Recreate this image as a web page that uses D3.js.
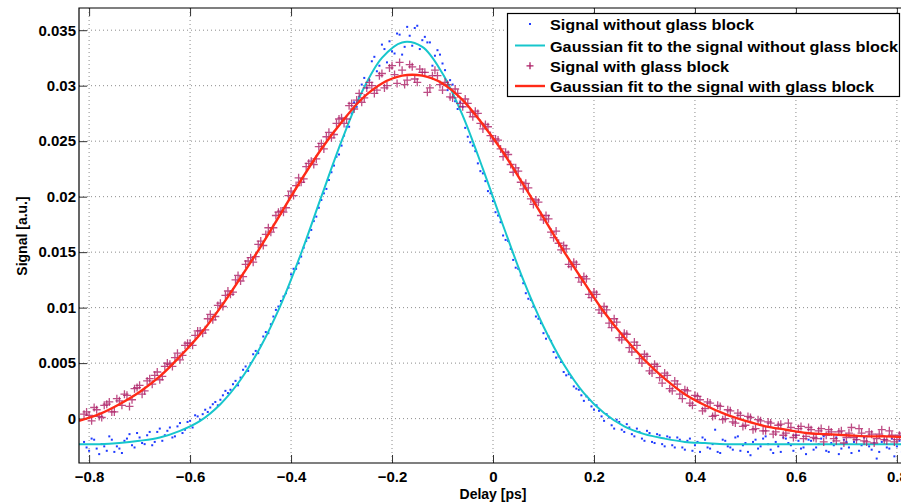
<!DOCTYPE html>
<html>
<head>
<meta charset="utf-8">
<script src="https://cdn.jsdelivr.net/npm/d3@7"></script>
<style>
  body { margin: 0; background: #fff; }
  svg { display: block; font-family: "Liberation Sans", Arial, Helvetica, sans-serif; }
  .tick text { font-size: 15px; font-weight: bold; fill: #000; }
</style>
</head>
<body>
<svg id="chart" width="901" height="504"></svg>
<script>
// measured scan, first pass (delay in ps)
var delay = [
  -0.81,-0.80,-0.79,-0.78,-0.77,-0.76,-0.75,-0.74,-0.73,-0.72,
  -0.71,-0.70,-0.69,-0.68,-0.67,-0.66,-0.65,-0.64,-0.63,-0.62,
  -0.61,-0.60,-0.59,-0.58,-0.57,-0.56,-0.55,-0.54,-0.53,-0.52,
  -0.51,-0.50,-0.49,-0.48,-0.47,-0.46,-0.45,-0.44,-0.43,-0.42,
  -0.41,-0.40,-0.39,-0.38,-0.37,-0.36,-0.35,-0.34,-0.33,-0.32,
  -0.31,-0.30,-0.29,-0.28,-0.27,-0.26,-0.25,-0.24,-0.23,-0.22,
  -0.21,-0.20,-0.19,-0.18,-0.17,-0.16,-0.15,-0.14,-0.13,-0.12,
  -0.11,-0.10,-0.09,-0.08,-0.07,-0.06,-0.05,-0.04,-0.03,-0.02,
  -0.01, 0.00, 0.01, 0.02, 0.03, 0.04, 0.05, 0.06, 0.07, 0.08,
   0.09, 0.10, 0.11, 0.12, 0.13, 0.14, 0.15, 0.16, 0.17, 0.18,
   0.19, 0.20, 0.21, 0.22, 0.23, 0.24, 0.25, 0.26, 0.27, 0.28,
   0.29, 0.30, 0.31, 0.32, 0.33, 0.34, 0.35, 0.36, 0.37, 0.38,
   0.39, 0.40, 0.41, 0.42, 0.43, 0.44, 0.45, 0.46, 0.47, 0.48,
   0.49, 0.50, 0.51, 0.52, 0.53, 0.54, 0.55, 0.56, 0.57, 0.58,
   0.59, 0.60, 0.61, 0.62, 0.63, 0.64, 0.65, 0.66, 0.67, 0.68,
   0.69, 0.70, 0.71, 0.72, 0.73, 0.74, 0.75, 0.76, 0.77, 0.78,
   0.79, 0.80, 0.81
];

var signalNoGlass = [
  -0.0021,-0.0029,-0.0019,-0.0032,-0.0025,-0.0016,-0.0030,-0.0027,-0.0020,-0.0014,
  -0.0026,-0.0017,-0.0023,-0.0012,-0.0021,-0.0009,-0.0015,-0.0008,-0.0016,-0.0004,
  -0.0010,-0.0002, 0.0003,-0.0001, 0.0008, 0.0010, 0.0015, 0.0017, 0.0025, 0.0026,
   0.0034, 0.0037, 0.0047, 0.0050, 0.0061, 0.0066, 0.0078, 0.0085, 0.0098, 0.0106,
   0.0113, 0.0130, 0.0135, 0.0146, 0.0160, 0.0170, 0.0182, 0.0197, 0.0207, 0.0222,
   0.0236, 0.0246, 0.0263, 0.0275, 0.0281, 0.0301, 0.0298, 0.0322, 0.0313, 0.0337,
   0.0321, 0.0331, 0.0347, 0.0328, 0.0353, 0.0336, 0.0354, 0.0341, 0.0339, 0.0318,
   0.0332, 0.0320, 0.0296, 0.0301, 0.0279, 0.0281, 0.0254, 0.0246, 0.0230, 0.0221,
   0.0205, 0.0196, 0.0183, 0.0165, 0.0160, 0.0143, 0.0135, 0.0122, 0.0108, 0.0101,
   0.0090, 0.0077, 0.0074, 0.0060, 0.0056, 0.0042, 0.0040, 0.0029, 0.0026, 0.0016,
   0.0017, 0.0008, 0.0007,-0.0002, 0.0001,-0.0009,-0.0003,-0.0012,-0.0008,-0.0016,
  -0.0012,-0.0020,-0.0013,-0.0022,-0.0015,-0.0025,-0.0017,-0.0026,-0.0019,-0.0028,
  -0.0018,-0.0024,-0.0030,-0.0019,-0.0027,-0.0010,-0.0031,-0.0020,-0.0026,-0.0017,
  -0.0029,-0.0022,-0.0033,-0.0019,-0.0025,-0.0016,-0.0028,-0.0021,-0.0030,-0.0018,
  -0.0024,-0.0015,-0.0027,-0.0032,-0.0020,-0.0026,-0.0018,-0.0029,-0.0022,-0.0017,
  -0.0027,-0.0021,-0.0031,-0.0019,-0.0024,-0.0016,-0.0028,-0.0036,-0.0021,-0.0026,
  -0.0018,-0.0025,-0.0030
];

var signalGlass = [
   0.0004, 0.0003, 0.0010, 0.0002, 0.0012, 0.0015, 0.0006, 0.0016, 0.0022, 0.0011,
   0.0027, 0.0030, 0.0025, 0.0036, 0.0039, 0.0035, 0.0047, 0.0049, 0.0055, 0.0053,
   0.0066, 0.0068, 0.0075, 0.0079, 0.0080, 0.0094, 0.0092, 0.0104, 0.0111, 0.0112,
   0.0125, 0.0124, 0.0139, 0.0145, 0.0146, 0.0160, 0.0166, 0.0168, 0.0183, 0.0187,
   0.0190, 0.0205, 0.0210, 0.0213, 0.0227, 0.0232, 0.0234, 0.0248, 0.0254, 0.0253,
   0.0266, 0.0271, 0.0270, 0.0284, 0.0287, 0.0285, 0.0298, 0.0300, 0.0296, 0.0311,
   0.0300, 0.0318, 0.0302, 0.0314, 0.0305, 0.0317, 0.0303, 0.0312, 0.0294, 0.0309,
   0.0309, 0.0296, 0.0301, 0.0289, 0.0293, 0.0281, 0.0284, 0.0272, 0.0275, 0.0261,
   0.0263, 0.0250, 0.0251, 0.0236, 0.0238, 0.0222, 0.0223, 0.0207, 0.0208, 0.0193,
   0.0195, 0.0179, 0.0180, 0.0163, 0.0158, 0.0156, 0.0139, 0.0141, 0.0127, 0.0128,
   0.0112, 0.0114, 0.0098, 0.0101, 0.0086, 0.0090, 0.0073, 0.0077, 0.0064, 0.0069,
   0.0054, 0.0058, 0.0043, 0.0049, 0.0037, 0.0041, 0.0027, 0.0034, 0.0022, 0.0026,
   0.0014, 0.0021, 0.0017, 0.0009, 0.0014, 0.0003, 0.0011, 0.0000, 0.0007,-0.0004,
   0.0003,-0.0006, 0.0001,-0.0009,-0.0002,-0.0011,-0.0004,-0.0012,-0.0005,-0.0013,
  -0.0008,-0.0015,-0.0007,-0.0016,-0.0010,-0.0018,-0.0009,-0.0015,-0.0012,-0.0020,
  -0.0011,-0.0017,-0.0008,-0.0019,-0.0013,-0.0021,-0.0014,-0.0018,-0.0010,-0.0020,
  -0.0015,-0.0019,-0.0013
];

// second pass, in between the first
var delayB = [
  -0.805,-0.795,-0.785,-0.775,-0.765,-0.755,-0.745,-0.735,-0.725,-0.715,
  -0.705,-0.695,-0.685,-0.675,-0.665,-0.655,-0.645,-0.635,-0.625,-0.615,
  -0.605,-0.595,-0.585,-0.575,-0.565,-0.555,-0.545,-0.535,-0.525,-0.515,
  -0.505,-0.495,-0.485,-0.475,-0.465,-0.455,-0.445,-0.435,-0.425,-0.415,
  -0.405,-0.395,-0.385,-0.375,-0.365,-0.355,-0.345,-0.335,-0.325,-0.315,
  -0.305,-0.295,-0.285,-0.275,-0.265,-0.255,-0.245,-0.235,-0.225,-0.215,
  -0.205,-0.195,-0.185,-0.175,-0.165,-0.155,-0.145,-0.135,-0.125,-0.115,
  -0.105,-0.095,-0.085,-0.075,-0.065,-0.055,-0.045,-0.035,-0.025,-0.015,
  -0.005, 0.005, 0.015, 0.025, 0.035, 0.045, 0.055, 0.065, 0.075, 0.085,
   0.095, 0.105, 0.115, 0.125, 0.135, 0.145, 0.155, 0.165, 0.175, 0.185,
   0.195, 0.205, 0.215, 0.225, 0.235, 0.245, 0.255, 0.265, 0.275, 0.285,
   0.295, 0.305, 0.315, 0.325, 0.335, 0.345, 0.355, 0.365, 0.375, 0.385,
   0.395, 0.405, 0.415, 0.425, 0.435, 0.445, 0.455, 0.465, 0.475, 0.485,
   0.495, 0.505, 0.515, 0.525, 0.535, 0.545, 0.555, 0.565, 0.575, 0.585,
   0.595, 0.605, 0.615, 0.625, 0.635, 0.645, 0.655, 0.665, 0.675, 0.685,
   0.695, 0.705, 0.715, 0.725, 0.735, 0.745, 0.755, 0.765, 0.775, 0.785,
   0.795, 0.805
];

var signalNoGlassB = [
  -0.0026,-0.0018,-0.0027,-0.0023,-0.0029,-0.0019,-0.0025,-0.0031,-0.0018,-0.0024,
  -0.0013,-0.0022,-0.0015,-0.0024,-0.0012,-0.0020,-0.0011,-0.0017,-0.0007,-0.0013,
  -0.0003,-0.0008, 0.0002, 0.0004, 0.0006, 0.0013, 0.0012, 0.0021, 0.0023, 0.0031,
   0.0030, 0.0044, 0.0043, 0.0058, 0.0059, 0.0074, 0.0077, 0.0092, 0.0101, 0.0110,
   0.0118, 0.0135, 0.0140, 0.0154, 0.0163, 0.0178, 0.0190, 0.0203, 0.0215, 0.0228,
   0.0238, 0.0255, 0.0263, 0.0285, 0.0290, 0.0307, 0.0305, 0.0326, 0.0318, 0.0333,
   0.0340, 0.0329, 0.0346, 0.0335, 0.0345, 0.0352, 0.0333, 0.0344, 0.0339, 0.0327,
   0.0328, 0.0314, 0.0305, 0.0286, 0.0285, 0.0262, 0.0249, 0.0241, 0.0223, 0.0214,
   0.0203, 0.0186, 0.0177, 0.0161, 0.0153, 0.0136, 0.0129, 0.0113, 0.0107, 0.0092,
   0.0086, 0.0072, 0.0070, 0.0055, 0.0051, 0.0039, 0.0037, 0.0027, 0.0021, 0.0020,
   0.0011, 0.0012, 0.0002, 0.0004,-0.0006,-0.0001,-0.0010,-0.0005,-0.0014,-0.0009,
  -0.0018,-0.0011,-0.0021,-0.0014,-0.0023,-0.0016,-0.0024,-0.0017,-0.0026,-0.0020,
  -0.0029,-0.0021,-0.0017,-0.0026,-0.0023,-0.0030,-0.0019,-0.0025,-0.0028,-0.0016,
  -0.0024,-0.0030,-0.0021,-0.0027,-0.0018,-0.0023,-0.0031,-0.0025,-0.0017,-0.0022,
  -0.0029,-0.0020,-0.0026,-0.0019,-0.0028,-0.0023,-0.0016,-0.0030,-0.0024,-0.0032,
  -0.0019,-0.0026,-0.0021,-0.0029,-0.0017,-0.0025,-0.0022,-0.0030,-0.0019,-0.0027,
  -0.0034,-0.0020
];

var signalGlassB = [
   0.0006,-0.0002, 0.0008, 0.0001, 0.0013, 0.0006, 0.0018, 0.0012, 0.0021, 0.0017,
   0.0028, 0.0022, 0.0034, 0.0031, 0.0042, 0.0038, 0.0050, 0.0047, 0.0059, 0.0057,
   0.0068, 0.0066, 0.0079, 0.0077, 0.0090, 0.0089, 0.0102, 0.0101, 0.0115, 0.0114,
   0.0129, 0.0128, 0.0142, 0.0141, 0.0157, 0.0156, 0.0172, 0.0172, 0.0186, 0.0186,
   0.0201, 0.0201, 0.0217, 0.0216, 0.0230, 0.0229, 0.0245, 0.0243, 0.0258, 0.0256,
   0.0270, 0.0266, 0.0282, 0.0279, 0.0293, 0.0289, 0.0303, 0.0293, 0.0309, 0.0298,
   0.0316, 0.0310, 0.0321, 0.0301, 0.0319, 0.0306, 0.0315, 0.0312, 0.0298, 0.0314,
   0.0301, 0.0303, 0.0290, 0.0297, 0.0284, 0.0288, 0.0276, 0.0277, 0.0266, 0.0265,
   0.0255, 0.0252, 0.0243, 0.0240, 0.0229, 0.0226, 0.0213, 0.0212, 0.0198, 0.0197,
   0.0183, 0.0183, 0.0168, 0.0169, 0.0152, 0.0153, 0.0137, 0.0139, 0.0123, 0.0126,
   0.0109, 0.0112, 0.0095, 0.0098, 0.0082, 0.0087, 0.0071, 0.0076, 0.0060, 0.0066,
   0.0050, 0.0056, 0.0041, 0.0047, 0.0032, 0.0039, 0.0025, 0.0031, 0.0018, 0.0025,
   0.0012, 0.0020, 0.0007, 0.0015, 0.0002, 0.0012,-0.0001, 0.0008,-0.0003, 0.0005,
  -0.0007, 0.0002,-0.0010,-0.0001,-0.0011,-0.0003,-0.0014,-0.0006,-0.0015,-0.0004,
  -0.0017,-0.0009,-0.0018,-0.0008,-0.0017,-0.0011,-0.0021,-0.0010,-0.0018,-0.0012,
  -0.0022,-0.0013,-0.0017,-0.0009,-0.0020,-0.0012,-0.0022,-0.0014,-0.0019,-0.0011,
  -0.0021,-0.0015
];

// gaussian fits
var fitDelay = [-0.82,-0.78,-0.74,-0.70,-0.66,-0.62,-0.58,-0.54,-0.50,-0.46,-0.42,-0.38,-0.34,-0.30,
  -0.26,-0.22,-0.18,-0.14,-0.10,-0.06,-0.02,0.02,0.06,0.10,0.14,0.18,0.22,0.26,
  0.30,0.34,0.38,0.42,0.46,0.50,0.54,0.58,0.62,0.66,0.70,0.74,0.78,0.82];
var fitNoGlass = [-0.0023,-0.0023,-0.0022,-0.0020,-0.0017,-0.0011,-0.0002,0.0013,0.0035,0.0065,0.0103,0.0149,0.0200,0.0250,
  0.0294,0.0325,0.0339,0.0335,0.0311,0.0273,0.0225,0.0174,0.0125,0.0083,0.0049,0.0023,0.0005,-0.0007,
  -0.0014,-0.0018,-0.0021,-0.0022,-0.0023,-0.0023,-0.0023,-0.0023,-0.0023,-0.0023,-0.0023,-0.0023,-0.0023,-0.0023];
var fitGlass = [-0.0002,0.0004,0.0013,0.0024,0.0038,0.0056,0.0076,0.0100,0.0127,0.0155,0.0185,0.0215,0.0243,0.0267,
  0.0288,0.0302,0.0309,0.0309,0.0302,0.0287,0.0265,0.0240,0.0211,0.0181,0.0151,0.0123,0.0096,0.0073,
  0.0053,0.0036,0.0022,0.0012,0.0004,-0.0002,-0.0007,-0.0010,-0.0013,-0.0014,-0.0015,-0.0016,-0.0016,-0.0017];

var xTicks = [-0.8,-0.6,-0.4,-0.2,0,0.2,0.4,0.6,0.8];
var yTicks = [0,0.005,0.01,0.015,0.02,0.025,0.03,0.035];
var legendLabels = ["Signal without glass block", "Gaussian fit to the signal without glass block",
                    "Signal with glass block", "Gaussian fit to the signal with glass block"];

var blue = "#1f3bff", cyan = "#17c6cc", crimson = "#ad1f66", red = "#ff2a17";

var svg = d3.select("#chart");
var plotL = 79, plotT = 8, plotB = 463, plotR = 907;

var x = d3.scaleLinear().domain([-0.82, 0.82]).range([plotL, plotR]);
var y = d3.scaleLinear().domain([-0.004, 0.037]).range([plotB, plotT]);

svg.append("clipPath").attr("id", "plot")
  .append("rect").attr("x", plotL).attr("y", plotT).attr("width", plotR - plotL).attr("height", plotB - plotT);

// dotted grid
svg.append("g").selectAll("line").data(xTicks).enter().append("line")
  .attr("x1", function(d) { return x(d); }).attr("x2", function(d) { return x(d); })
  .attr("y1", plotT).attr("y2", plotB)
  .attr("stroke", "#8c8c8c").attr("stroke-dasharray", "1,3");
svg.append("g").selectAll("line").data(yTicks).enter().append("line")
  .attr("y1", function(d) { return y(d); }).attr("y2", function(d) { return y(d); })
  .attr("x1", plotL).attr("x2", plotR)
  .attr("stroke", "#8c8c8c").attr("stroke-dasharray", "1,3");

// axes, ticks pointing inward like matlab
var fmt = d3.format("~g");
var xAxis = svg.append("g").attr("transform", "translate(0," + plotB + ")")
  .call(d3.axisBottom(x).tickValues(xTicks).tickFormat(fmt).tickSizeInner(-8).tickSizeOuter(0).tickPadding(8));
var xTop = svg.append("g").attr("transform", "translate(0," + plotT + ")")
  .call(d3.axisTop(x).tickValues(xTicks).tickFormat("").tickSizeInner(-8).tickSizeOuter(0));
var yAxis = svg.append("g").attr("transform", "translate(" + plotL + ",0)")
  .call(d3.axisLeft(y).tickValues(yTicks).tickFormat(fmt).tickSizeInner(-8).tickSizeOuter(0).tickPadding(3));
[xAxis, xTop, yAxis].forEach(function(g) {
  g.select(".domain").remove();
  g.selectAll(".tick line").attr("stroke", "#333");
});

var plot = svg.append("g").attr("clip-path", "url(#plot)");

// signal without glass block
function dots(xs, ys) {
  plot.append("g").selectAll("rect").data(xs).enter().append("rect")
    .attr("x", function(d) { return x(d) - 1; })
    .attr("y", function(d, i) { return y(ys[i]) - 1; })
    .attr("width", 2).attr("height", 2)
    .attr("fill", blue);
}
dots(delay, signalNoGlass);
dots(delayB, signalNoGlassB);

var line = d3.line()
  .x(function(d) { return x(d); })
  .curve(d3.curveCatmullRom);

plot.append("path")
  .attr("d", line.y(function(d, i) { return y(fitNoGlass[i]); })(fitDelay))
  .attr("fill", "none").attr("stroke", cyan).attr("stroke-width", 2);

// signal with glass block
var plus = "M-4,0H4M0,-4V4";
function crosses(xs, ys) {
  plot.append("g").selectAll("path").data(xs).enter().append("path")
    .attr("transform", function(d, i) { return "translate(" + x(d) + "," + y(ys[i]) + ")"; })
    .attr("d", plus)
    .attr("stroke", crimson).attr("stroke-width", 1.3).attr("stroke-opacity", 0.8);
}
crosses(delay, signalGlass);
crosses(delayB, signalGlassB);

plot.append("path")
  .attr("d", line.y(function(d, i) { return y(fitGlass[i]); })(fitDelay))
  .attr("fill", "none").attr("stroke", red).attr("stroke-width", 2.4);

// axes box
svg.append("path")
  .attr("d", "M" + plotR + "," + plotT + "H" + plotL + "V" + plotB + "H" + plotR)
  .attr("fill", "none").attr("stroke", "#000").attr("stroke-width", 1.2);

// axis labels
svg.append("text").attr("x", 493).attr("y", 499).attr("text-anchor", "middle")
  .attr("font-size", 14).attr("font-weight", "bold").text("Delay [ps]");
svg.append("text").attr("transform", "translate(27,236) rotate(-90)").attr("text-anchor", "middle")
  .attr("font-size", 14).attr("font-weight", "bold").text("Signal [a.u.]");

// legend
var lg = svg.append("g");
lg.append("rect").attr("x", 507.5).attr("y", 13.5).attr("width", 392).attr("height", 83)
  .attr("fill", "#fff").attr("stroke", "#000").attr("stroke-width", 1.2);
var rows = [30, 51.5, 71.8, 92];
var rowWidths = [204, 348, 179, 324];
lg.selectAll("text").data(legendLabels).enter().append("text")
  .attr("x", 550).attr("y", function(d, i) { return rows[i]; })
  .attr("font-size", 15.5).attr("font-weight", "bold")
  .attr("textLength", function(d, i) { return rowWidths[i]; })
  .attr("lengthAdjust", "spacingAndGlyphs")
  .text(function(d) { return d; });
lg.append("rect").attr("x", 529).attr("y", rows[0] - 7).attr("width", 2).attr("height", 2).attr("fill", blue);
lg.append("line").attr("x1", 515).attr("x2", 545).attr("y1", rows[1] - 6).attr("y2", rows[1] - 6)
  .attr("stroke", cyan).attr("stroke-width", 2);
lg.append("path").attr("transform", "translate(530," + (rows[2] - 6) + ")")
  .attr("d", "M-3.5,0H3.5M0,-3.5V3.5").attr("stroke", crimson).attr("stroke-width", 1.3);
lg.append("line").attr("x1", 515).attr("x2", 545).attr("y1", rows[3] - 6).attr("y2", rows[3] - 6)
  .attr("stroke", red).attr("stroke-width", 2.4);
</script>
</body>
</html>
